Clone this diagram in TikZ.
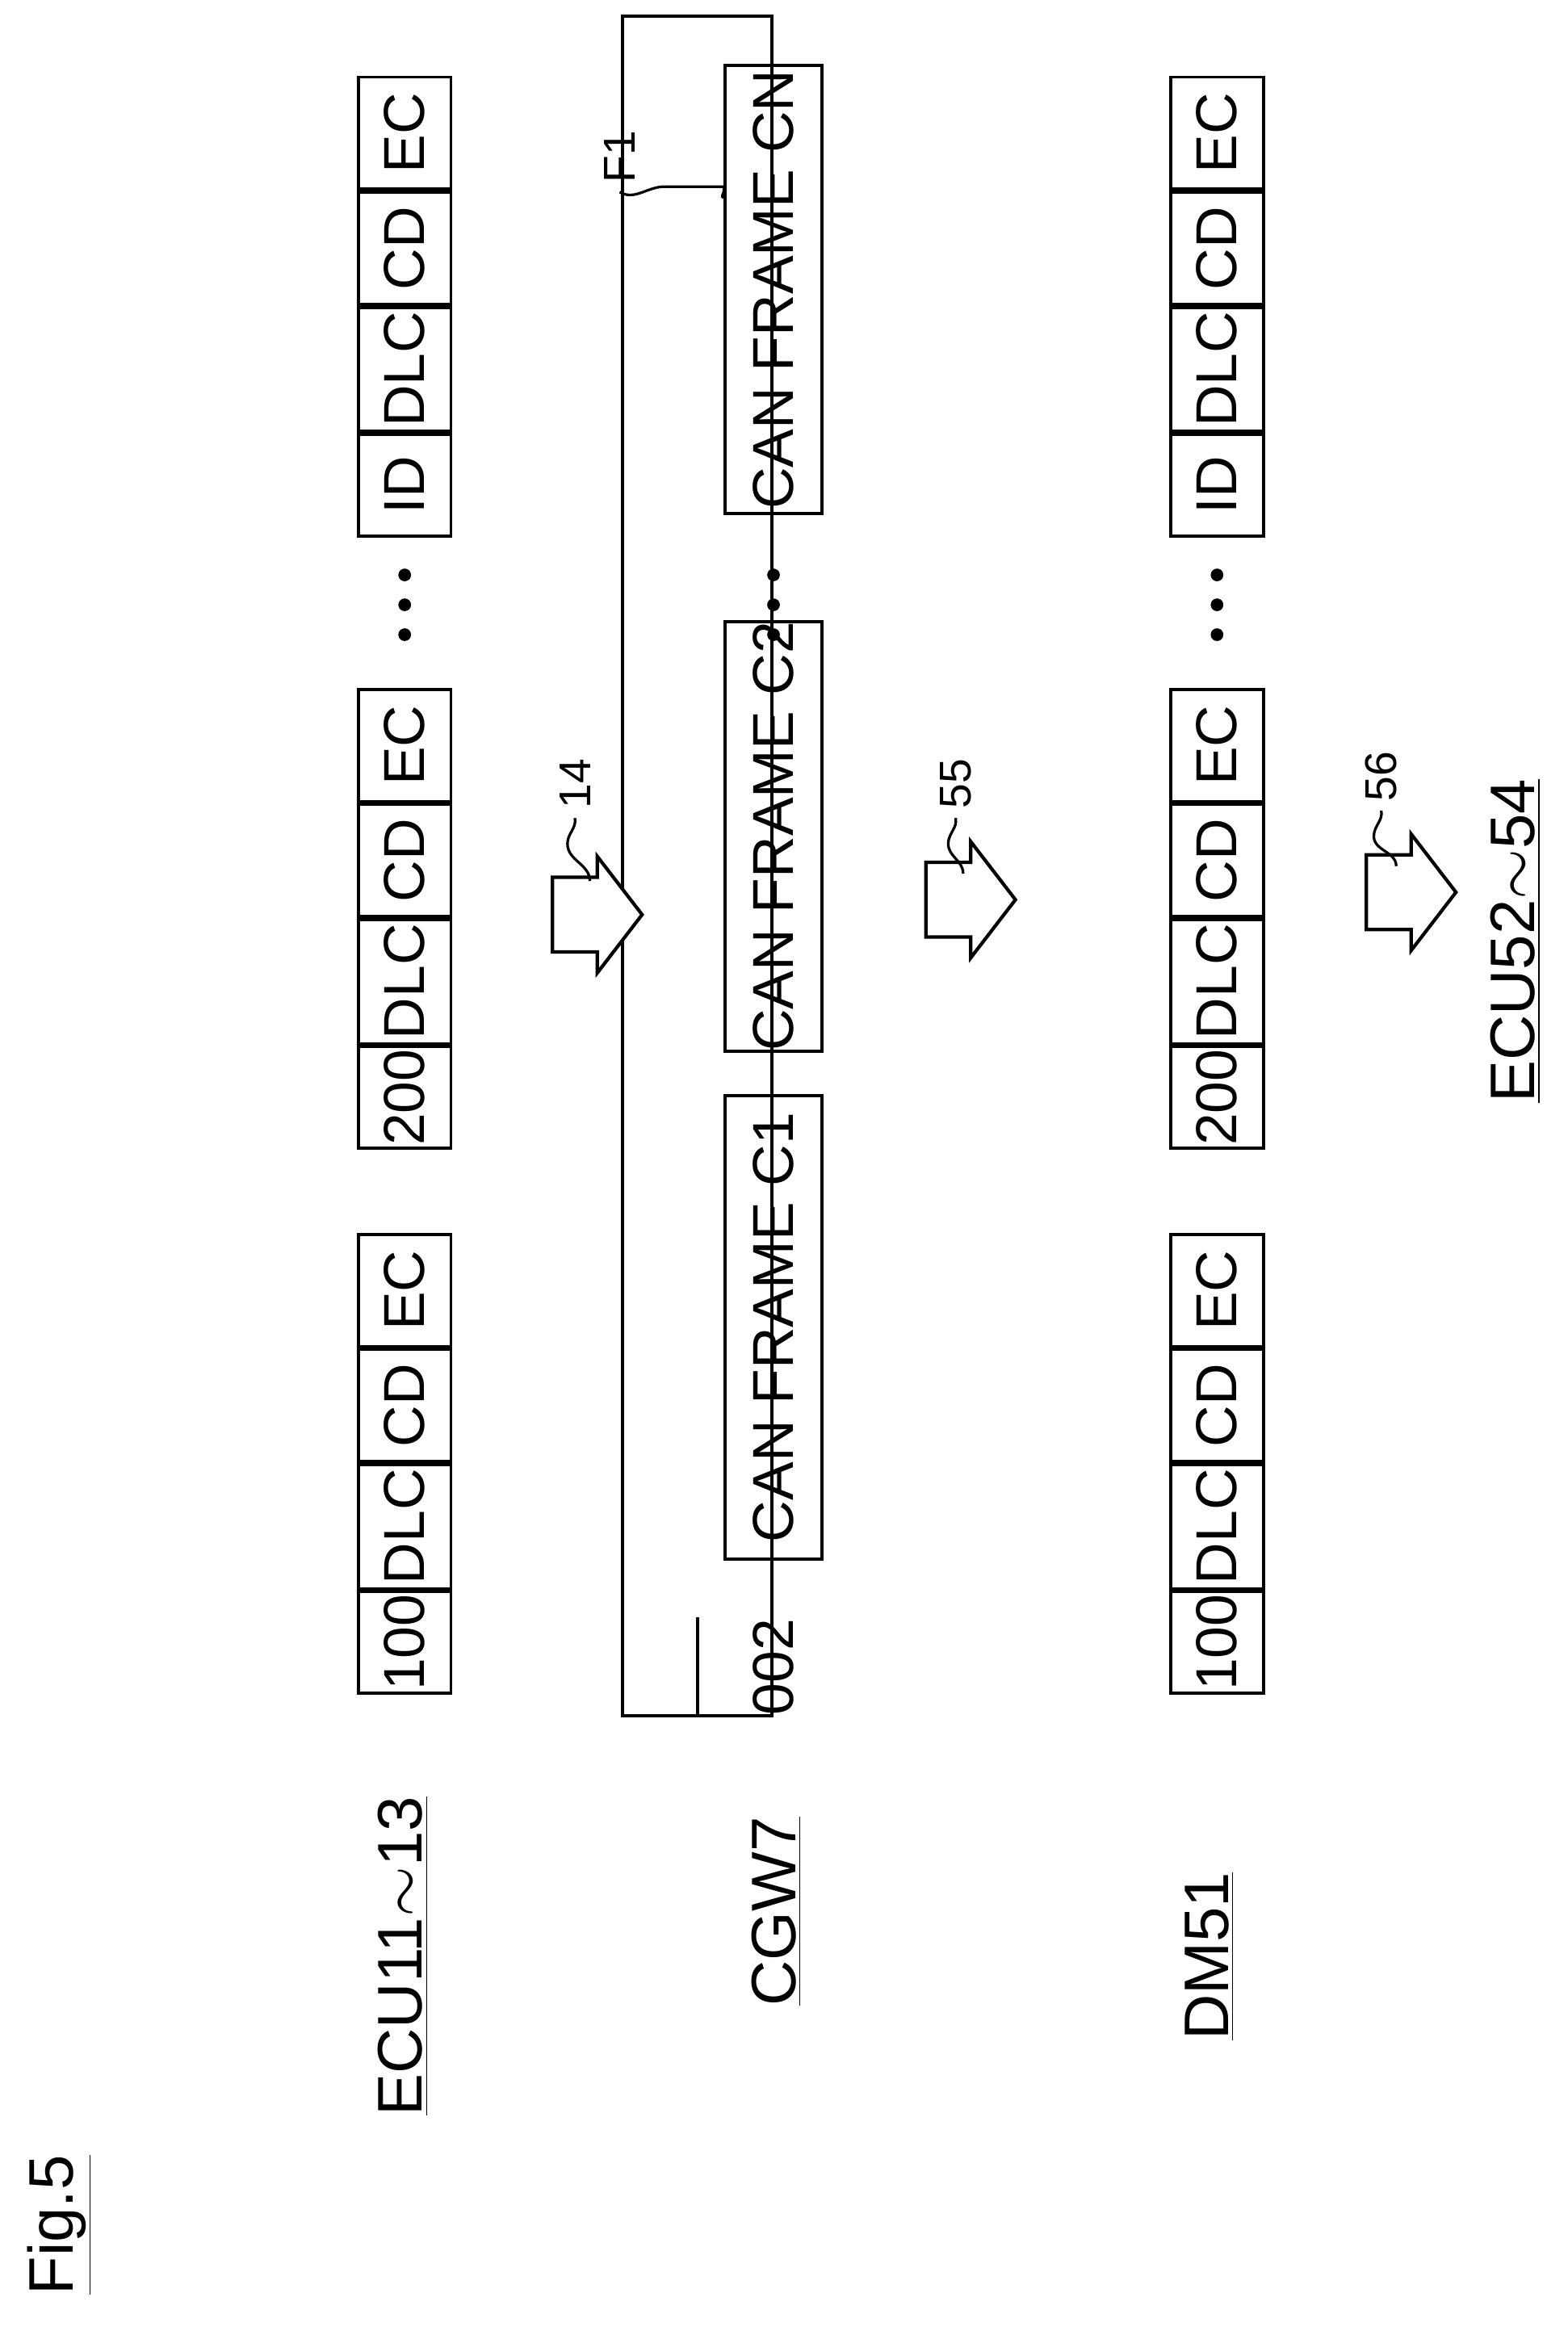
\documentclass[tikz,border=0pt]{standalone}
\usepackage{fontspec}
\setmainfont{Liberation Sans}
\usetikzlibrary{positioning}

\tikzset{
  field/.style={draw, line width=1.2pt, rotate=90, minimum height=1.24cm, inner sep=0pt, font=\fontsize{22}{26}\selectfont},
  label/.style={rotate=90, font=\fontsize{24}{28}\selectfont},
  num/.style={rotate=90, font=\fontsize{17}{20}\selectfont},
  dot/.style={fill, circle, inner sep=0pt, minimum size=0.17cm},
  blockarrow/.style={draw, line width=1.3pt, fill=white}
}

% one frame: name, x, bottom y, first field text
\newcommand\canfield[4]{%
  \node[field, anchor=west, minimum width=1.36cm] (#1a) at (#2,#3) {#4};
  \node[field, anchor=west, minimum width=1.66cm, right=0pt of #1a.east] (#1b) {DLC};
  \node[field, anchor=west, minimum width=1.5cm, right=0pt of #1b.east] (#1c) {CD};
  \node[field, anchor=west, minimum width=1.5cm, right=0pt of #1c.east] (#1d) {EC};
}

% block arrow pointing to the right
\newcommand\bigarrow[2]{%
  \draw[blockarrow] (#1,#2) ++(0,-0.25) -- ++(0.6,0) -- ++(0,-0.28) -- ++(0.6,0.78)
    -- ++(-0.6,0.78) -- ++(0,-0.28) -- ++(-0.6,0) -- cycle;
}

\begin{document}
\begin{tikzpicture}
\useasboundingbox (0,0) rectangle (21,-31.22);

% titles
\node[label] (fig) at (0.8,-29.8) {\underline{Fig.5}};
\node[label] (ecuin) at (5.4,-26.2) {\underline{ECU11$\sim$13}};
\node[label] (cgw) at (10.4,-25.6) {\underline{CGW7}};
\node[label] (dm) at (16.2,-26.2) {\underline{DM51}};
\node[label] (ecuout) at (20.3,-12.6) {\underline{ECU52$\sim$54}};

% ECU frames
\canfield{ua}{5.42}{-22.7}{100}
\canfield{ub}{5.42}{-15.4}{200}
\canfield{uc}{5.42}{-7.2}{ID}
\foreach \y in {-7.7,-8.1,-8.5}
  \node[dot] at (5.42,\y) {};

% CGW frame
\node[draw, line width=1.2pt, rotate=90, minimum width=22.76cm, minimum height=2cm, anchor=south west] (gw) at (10.36,-23.0) {};
\node[field, draw=none, anchor=west, minimum width=1.3cm, minimum height=2cm] (gwid) at (10.36,-23.0) {002};
\draw[line width=1.2pt] (gwid.north west) -- (gwid.north east);
\node[field, anchor=west, minimum width=6.2cm, minimum height=1.3cm] (c1) at (10.36,-20.9) {CAN FRAME C1};
\node[field, anchor=west, minimum width=5.6cm, minimum height=1.3cm] (c2) at (10.36,-14.1) {CAN FRAME C2};
\node[field, anchor=west, minimum width=6cm, minimum height=1.3cm] (cn) at (10.36,-6.9) {CAN FRAME CN};
\foreach \y in {-7.7,-8.1,-8.5}
  \node[dot] at (10.36,\y) {};
\node[num] (f1) at (8.3,-2.1) {F1};
\draw[line width=1pt] (f1.west) to[out=-30,in=180] (8.9,-2.5) to[out=0,in=180] (9.7,-2.5) -- (c2.north |- 0,-2.6) (9.7,-2.5) to[out=0,in=160] (cn.north |- 0,-2.65);

% DM frames
\canfield{da}{16.3}{-22.7}{100}
\canfield{db}{16.3}{-15.4}{200}
\canfield{dc}{16.3}{-7.2}{ID}
\foreach \y in {-7.7,-8.1,-8.5}
  \node[dot] at (16.3,\y) {};

% arrows
\bigarrow{7.4}{-12.5}
\node[num] (n14) at (7.7,-10.5) {14};
\draw[line width=1pt] (n14.west) to[out=-80,in=90] (7.6,-11.3) to[out=-90,in=90] (7.9,-11.8);
\bigarrow{12.4}{-12.3}
\node[num] (n55) at (12.8,-10.5) {55};
\draw[line width=1pt] (n55.west) to[out=-80,in=90] (12.7,-11.3) to[out=-90,in=90] (12.9,-11.7);
\bigarrow{18.3}{-12.2}
\node[num] (n56) at (18.5,-10.4) {56};
\draw[line width=1pt] (n56.west) to[out=-80,in=90] (18.4,-11.2) to[out=-90,in=90] (18.7,-11.6);
\end{tikzpicture}
\end{document}
